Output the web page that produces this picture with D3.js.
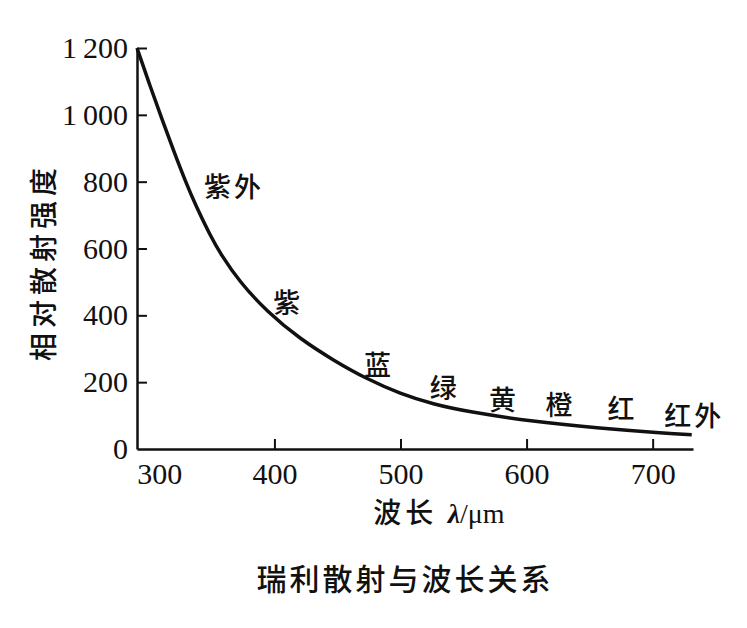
<!DOCTYPE html>
<html>
<head>
<meta charset="utf-8">
<script src="https://cdn.jsdelivr.net/npm/d3@7"></script>
<style>
  body { margin: 0; background: #fff; }
  .tick text { font-family: "Liberation Serif", "DejaVu Serif", serif; }
</style>
</head>
<body>
<div id="chart"></div>
<script>
// courbe (longueur d'onde / intensité relative)
const wavelengths = [291, 301, 311, 320, 329, 338, 349, 357, 373, 394, 420, 447, 473, 500, 526, 553, 605, 658, 711, 731];
const intensities = [1200, 1090, 985, 893, 805, 725, 640, 585, 497, 412, 330, 265, 210, 165, 134, 112, 82, 62, 47, 43];

const xTicks = [300, 400, 500, 600, 700];
const yTicks = [0, 200, 400, 600, 800, 1000, 1200];

// étiquettes des couleurs le long de la courbe
const bandNames = ["紫外", "紫", "蓝", "绿", "黄", "橙", "红", "红外"];
const bandWl = [368, 411, 483, 535, 582, 627, 676, 733];
const bandVal = [790, 440, 257, 186, 150, 135, 123, 102];

const width = 747;
const height = 628;

const svg = d3.select("#chart")
  .append("svg")
  .attr("width", width)
  .attr("height", height);

const x = d3.scaleLinear().domain([291, 732]).range([137, 693]);
const y = d3.scaleLinear().domain([0, 1200]).range([449, 48]);

const fmt = d => d >= 1000 ? Math.floor(d / 1000) + "\u2009" + d3.format("03d")(d % 1000) : String(d);

// axe X
const gx = svg.append("g")
  .attr("transform", "translate(0," + y(0) + ")")
  .call(d3.axisBottom(x).tickValues(xTicks).tickSizeInner(-10).tickSizeOuter(0).tickPadding(14));

// axe Y
const gy = svg.append("g")
  .attr("transform", "translate(" + x(291) + ",0)")
  .call(d3.axisLeft(y).tickValues(yTicks).tickFormat(fmt).tickSizeInner(-10).tickSizeOuter(0).tickPadding(9));

[gx, gy].forEach(g => {
  g.select(".domain").attr("stroke", "#111").attr("stroke-width", 2.5);
  g.selectAll(".tick line").attr("stroke", "#111").attr("stroke-width", 2);
  g.selectAll(".tick text").attr("fill", "#111").style("font-size", "30px");
});

// pas de trait pour 300 (hors de l'axe), et le 0 sans trait
gx.selectAll(".tick").filter(d => d === 300).select("line").remove();
gx.selectAll(".tick").filter(d => d === 300).select("text").attr("x", 11);
gy.selectAll(".tick").filter(d => d === 0).select("line").remove();

// courbe
const line = d3.line()
  .x((d, i) => x(wavelengths[i]))
  .y(d => y(d))
  .curve(d3.curveBasis);

svg.append("path")
  .datum(intensities)
  .attr("d", line)
  .attr("fill", "none")
  .attr("stroke", "#111")
  .attr("stroke-width", 3.5);

// noms des bandes
svg.selectAll(".band")
  .data(bandNames)
  .enter()
  .append("text")
  .attr("class", "band")
  .attr("x", (d, i) => x(bandWl[i]))
  .attr("y", (d, i) => y(bandVal[i]))
  .attr("text-anchor", "middle")
  .attr("dominant-baseline", "central")
  .style("font-family", "'Noto Sans CJK SC', sans-serif")
  .style("font-size", "27px")
  .style("font-weight", "500")
  .style("letter-spacing", "3px")
  .attr("fill", "#111")
  .text(d => d);

// titre de l'axe Y
svg.append("text")
  .attr("transform", "translate(42,262) rotate(-90)")
  .attr("text-anchor", "middle")
  .attr("dominant-baseline", "central")
  .style("font-family", "'Noto Sans CJK SC', sans-serif")
  .style("font-size", "28px")
  .style("font-weight", "500")
  .style("letter-spacing", "5px")
  .attr("fill", "#111")
  .text("相对散射强度");

// titre de l'axe X
const xt = svg.append("text")
  .attr("x", 439)
  .attr("y", 523)
  .attr("text-anchor", "middle")
  .attr("fill", "#111")
  .style("font-size", "28px");
xt.append("tspan")
  .style("font-family", "'Noto Sans CJK SC', sans-serif")
  .style("font-weight", "500")
  .style("letter-spacing", "4px")
  .text("波长 ");
xt.append("tspan")
  .style("font-family", "'Liberation Serif', serif")
  .style("font-style", "italic")
  .style("font-weight", "bold")
  .text("λ");
xt.append("tspan")
  .style("font-family", "'Liberation Serif', serif")
  .text("/μm");

// titre du graphique
svg.append("text")
  .attr("x", 405)
  .attr("y", 590)
  .attr("text-anchor", "middle")
  .style("font-family", "'Noto Sans CJK SC', sans-serif")
  .style("font-size", "30px")
  .style("font-weight", "500")
  .style("letter-spacing", "3px")
  .attr("fill", "#111")
  .text("瑞利散射与波长关系");
</script>
</body>
</html>
